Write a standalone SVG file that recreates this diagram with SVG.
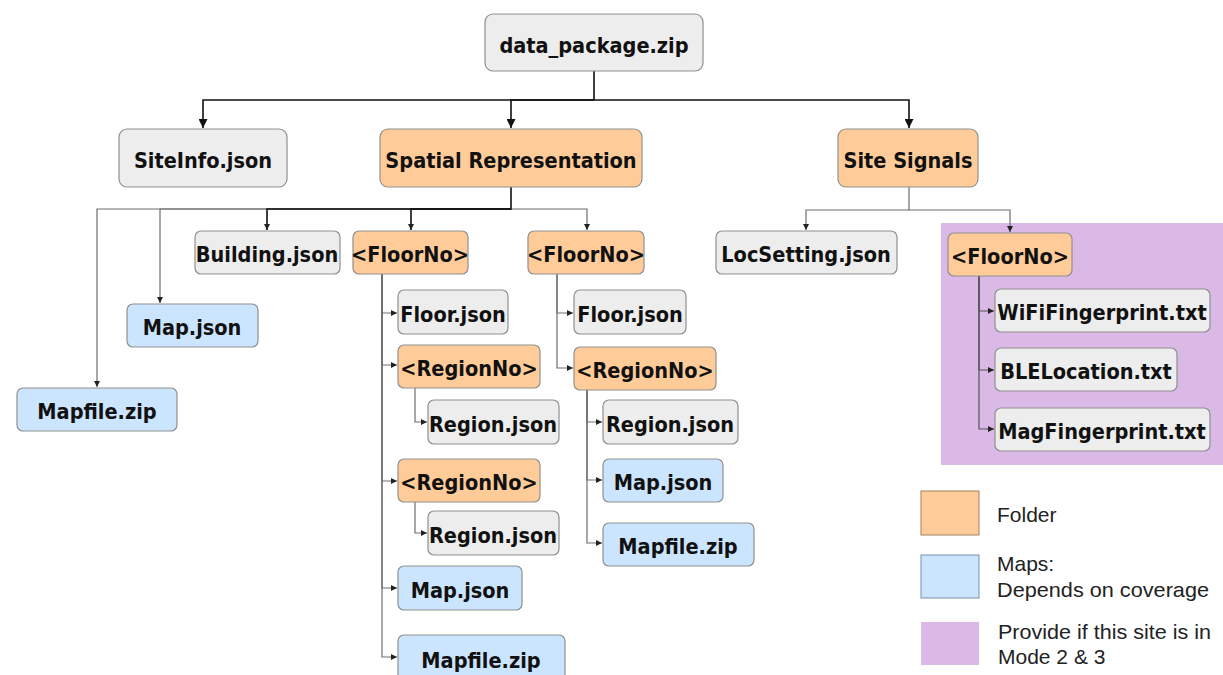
<svg xmlns="http://www.w3.org/2000/svg" width="1223" height="675" viewBox="0 0 1223 675">
<defs>
<style>
.b{stroke:#8f8f8f;stroke-width:1.2}
.g{fill:#ededed}
.o{fill:#ffcc99}
.u{fill:#cce5ff}
.t{font-family:"DejaVu Sans Condensed","DejaVu Sans",Verdana,sans-serif;font-stretch:condensed;font-weight:bold;font-size:21.5px;fill:#111;text-anchor:middle}
.l{font-family:"Liberation Sans",Arial,sans-serif;font-size:21px;fill:#222}
.c1{fill:none;stroke:#111;stroke-width:1.6}
.c2{fill:none;stroke:#6e6e6e;stroke-width:1.2}
.c3{fill:none;stroke:#555;stroke-width:1.2}
</style>
<marker id="ab" viewBox="0 0 10 10" refX="10" refY="5" markerWidth="9" markerHeight="9" markerUnits="userSpaceOnUse" orient="auto"><path d="M0,0 L10,5 L0,10 z" fill="#111"/></marker>
<marker id="as" viewBox="0 0 10 10" refX="10" refY="5" markerWidth="6" markerHeight="6" markerUnits="userSpaceOnUse" orient="auto"><path d="M0,0 L10,5 L0,10 z" fill="#222"/></marker>
</defs>
<rect width="1223" height="675" fill="#fff"/>
<rect id="mode-area" x="941" y="223" width="282" height="242" fill="#dab9e6"/>
<g id="connectors">
<path class="c1" d="M594,71 V100 H203 V128" marker-end="url(#ab)"/>
<path class="c1" d="M594,100 H511 V128" marker-end="url(#ab)"/>
<path class="c1" d="M594,100 H909 V128" marker-end="url(#ab)"/>
<path class="c2" d="M511,209 H97 V387" marker-end="url(#as)"/>
<path class="c2" d="M511,209 H160 V303" marker-end="url(#as)"/>
<path class="c2" d="M511,209 H587 V230" marker-end="url(#as)"/>
<path class="c1" d="M511,187 V209 H267 V230" marker-end="url(#as)"/>
<path class="c1" d="M511,209 H411 V230" marker-end="url(#as)"/>
<path class="c2" d="M382,274 V313 H397" marker-end="url(#as)"/>
<path class="c2" d="M382,274 V365 H397" marker-end="url(#as)"/>
<path class="c2" d="M382,274 V481 H397" marker-end="url(#as)"/>
<path class="c2" d="M382,274 V588 H397" marker-end="url(#as)"/>
<path class="c2" d="M382,274 V657 H397" marker-end="url(#as)"/>
<path class="c2" d="M415,388 V422 H427" marker-end="url(#as)"/>
<path class="c2" d="M415,502 V533 H427" marker-end="url(#as)"/>
<path class="c2" d="M557,274 V313 H573" marker-end="url(#as)"/>
<path class="c2" d="M557,274 V368 H573" marker-end="url(#as)"/>
<path class="c2" d="M587,390 V422 H602" marker-end="url(#as)"/>
<path class="c2" d="M587,390 V480 H602" marker-end="url(#as)"/>
<path class="c2" d="M587,390 V543 H602" marker-end="url(#as)"/>
<path class="c2" d="M909,187 V210 H806 V230" marker-end="url(#as)"/>
<path class="c2" d="M909,210 H1010 V232" marker-end="url(#as)"/>
<path class="c3" d="M979,276 V311 H994" marker-end="url(#as)"/>
<path class="c3" d="M979,276 V370 H994" marker-end="url(#as)"/>
<path class="c3" d="M979,276 V429 H994" marker-end="url(#as)"/>
</g>
<g id="root"><rect class="b g" x="485" y="14" width="218" height="57" rx="8"/><text class="t" x="594" y="53">data_package.zip</text></g>
<g id="siteinfo"><rect class="b g" x="119" y="129" width="168" height="58" rx="8"/><text class="t" x="203" y="168">SiteInfo.json</text></g>
<g id="spatial"><rect class="b o" x="380" y="129" width="262" height="58" rx="8"/><text class="t" x="511" y="168">Spatial Representation</text></g>
<g id="signals"><rect class="b o" x="838" y="129" width="140" height="58" rx="8"/><text class="t" x="908" y="168">Site Signals</text></g>
<g id="building"><rect class="b g" x="195" y="231" width="145" height="43" rx="6"/><text class="t" x="267" y="262">Building.json</text></g>
<g id="map-left"><rect class="b u" x="127" y="304" width="131" height="43" rx="6"/><text class="t" x="192" y="335">Map.json</text></g>
<g id="mapfile-left"><rect class="b u" x="17" y="388" width="160" height="43" rx="6"/><text class="t" x="97" y="419">Mapfile.zip</text></g>
<g id="floor1"><rect class="b o" x="353" y="231" width="115" height="43" rx="6"/><text class="t" x="410" y="262">&lt;FloorNo&gt;</text></g>
<g id="floor2"><rect class="b o" x="528" y="231" width="116" height="43" rx="6"/><text class="t" x="586" y="262">&lt;FloorNo&gt;</text></g>
<g id="locsetting"><rect class="b g" x="716" y="231" width="181" height="43" rx="6"/><text class="t" x="806" y="262">LocSetting.json</text></g>
<g id="floorjson1"><rect class="b g" x="398" y="290" width="110" height="44" rx="6"/><text class="t" x="453" y="322">Floor.json</text></g>
<g id="region1a"><rect class="b o" x="398" y="345" width="142" height="43" rx="6"/><text class="t" x="469" y="376">&lt;RegionNo&gt;</text></g>
<g id="regionjson1a"><rect class="b g" x="428" y="400" width="131" height="44" rx="6"/><text class="t" x="493" y="432">Region.json</text></g>
<g id="region1b"><rect class="b o" x="398" y="459" width="142" height="43" rx="6"/><text class="t" x="469" y="490">&lt;RegionNo&gt;</text></g>
<g id="regionjson1b"><rect class="b g" x="428" y="511" width="131" height="44" rx="6"/><text class="t" x="493" y="543">Region.json</text></g>
<g id="map1"><rect class="b u" x="398" y="566" width="124" height="44" rx="6"/><text class="t" x="460" y="598">Map.json</text></g>
<g id="mapfile1"><rect class="b u" x="398" y="635" width="167" height="48" rx="6"/><text class="t" x="481" y="668">Mapfile.zip</text></g>
<g id="floorjson2"><rect class="b g" x="574" y="290" width="112" height="44" rx="6"/><text class="t" x="630" y="322">Floor.json</text></g>
<g id="region2"><rect class="b o" x="574" y="347" width="142" height="43" rx="6"/><text class="t" x="645" y="378">&lt;RegionNo&gt;</text></g>
<g id="regionjson2"><rect class="b g" x="603" y="400" width="135" height="44" rx="6"/><text class="t" x="670" y="432">Region.json</text></g>
<g id="map2"><rect class="b u" x="603" y="459" width="120" height="43" rx="6"/><text class="t" x="663" y="490">Map.json</text></g>
<g id="mapfile2"><rect class="b u" x="603" y="523" width="151" height="43" rx="6"/><text class="t" x="678" y="554">Mapfile.zip</text></g>
<g id="floor3"><rect class="b o" x="948" y="233" width="124" height="43" rx="6"/><text class="t" x="1010" y="264">&lt;FloorNo&gt;</text></g>
<g id="wifi"><rect class="b g" x="995" y="289" width="215" height="43" rx="6"/><text class="t" x="1102" y="320">WiFiFingerprint.txt</text></g>
<g id="ble"><rect class="b g" x="995" y="348" width="182" height="43" rx="6"/><text class="t" x="1086" y="379">BLELocation.txt</text></g>
<g id="mag"><rect class="b g" x="995" y="408" width="215" height="43" rx="6"/><text class="t" x="1102" y="439">MagFingerprint.txt</text></g>
<g id="legend">
<rect x="921" y="491" width="58" height="44" fill="#ffcc99" stroke="#a08060" stroke-width="1"/>
<text class="l" x="997" y="522">Folder</text>
<rect x="921" y="555" width="58" height="43" fill="#cce5ff" stroke="#7890a8" stroke-width="1"/>
<text class="l" x="997" y="571">Maps:</text>
<text class="l" x="997" y="597" textLength="212" lengthAdjust="spacingAndGlyphs">Depends on coverage</text>
<rect x="921" y="622" width="58" height="43" fill="#dab9e6"/>
<text class="l" x="998" y="639" textLength="213" lengthAdjust="spacingAndGlyphs">Provide if this site is in</text>
<text class="l" x="998" y="664">Mode 2 &amp; 3</text>
</g>
</svg>
